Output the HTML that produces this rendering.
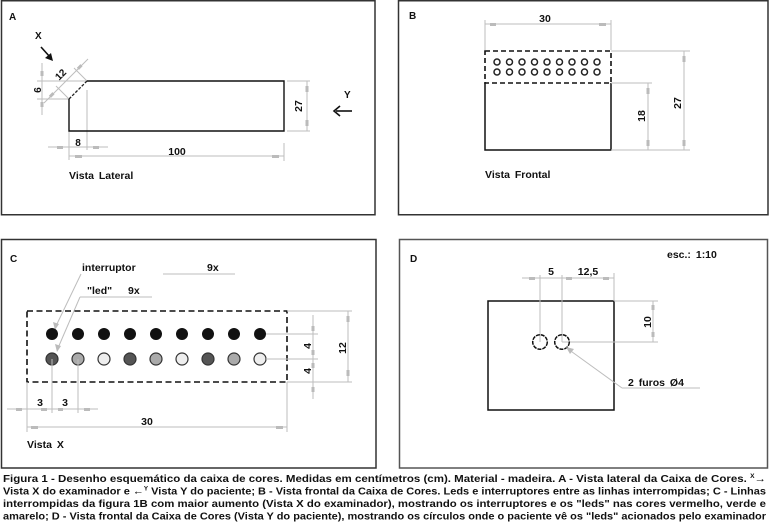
<!DOCTYPE html>
<html><head><meta charset="utf-8"><style>
html,body{margin:0;padding:0;background:#fff;}
svg{display:block;}
text{font-family:"Liberation Sans",Arial,sans-serif;font-weight:bold;fill:#111;}
.d{stroke:#bdbdbd;stroke-width:1;fill:none;}
.m{fill:#bbb;}
</style></head><body>
<svg width="770" height="526" viewBox="0 0 770 526" xmlns="http://www.w3.org/2000/svg">
<!-- Panel borders -->
<rect x="1.5" y="0.75" width="373.5" height="214" fill="none" stroke="#333" stroke-width="1.5"/>
<rect x="398.5" y="0.75" width="369.5" height="214" fill="none" stroke="#333" stroke-width="1.5"/>
<rect x="1.5" y="239.5" width="374.5" height="228.5" fill="none" stroke="#333" stroke-width="1.5"/>
<rect x="399.5" y="239.5" width="368" height="228.5" fill="none" stroke="#555" stroke-width="1.5"/>

<!-- ========== Panel A ========== -->
<text x="9" y="20" font-size="10">A</text>
<text x="35" y="39" font-size="10">X</text>
<line x1="41" y1="47" x2="50" y2="57" stroke="#111" stroke-width="1.6"/>
<polygon points="53,61 45,58 51,53" fill="#111"/>
<line class="d" x1="37" y1="81" x2="87" y2="81"/>
<line class="d" x1="37" y1="99" x2="69" y2="99"/>
<line class="d" x1="42" y1="63" x2="42" y2="115"/>
<rect class="m" x="40.5" y="71" width="3" height="5"/>
<rect class="m" x="40.5" y="102" width="3" height="5"/>
<text x="0" y="0" font-size="10" transform="translate(34,90) rotate(90)" text-anchor="middle">9</text>
<line class="d" x1="44" y1="103" x2="88" y2="59"/>
<line class="d" x1="87" y1="81" x2="74" y2="68"/>
<line class="d" x1="69" y1="99" x2="56" y2="86"/>
<rect class="m" x="49" y="94" width="5" height="3" transform="rotate(-45 51 95)"/>
<rect class="m" x="77" y="66" width="5" height="3" transform="rotate(-45 79 67)"/>
<text x="0" y="0" font-size="10" transform="translate(63,77) rotate(-45)" text-anchor="middle">12</text>
<line class="d" x1="87" y1="90" x2="87" y2="150"/>
<line class="d" x1="69" y1="131" x2="69" y2="160"/>
<line class="d" x1="48" y1="147" x2="108" y2="147"/>
<rect class="m" x="57" y="146" width="6" height="3"/>
<rect class="m" x="93" y="146" width="6" height="3"/>
<text x="78" y="146" font-size="10" text-anchor="middle">8</text>
<line class="d" x1="69" y1="156" x2="284" y2="156"/>
<rect class="m" x="75" y="155" width="7" height="3"/>
<rect class="m" x="272" y="155" width="7" height="3"/>
<line class="d" x1="284" y1="143" x2="284" y2="161"/>
<text x="177" y="155" font-size="10.5" text-anchor="middle">100</text>
<line class="d" x1="287" y1="81" x2="310" y2="81"/>
<line class="d" x1="287" y1="131" x2="310" y2="131"/>
<line class="d" x1="307" y1="81" x2="307" y2="131"/>
<rect class="m" x="305.5" y="86" width="3" height="6"/>
<rect class="m" x="305.5" y="120" width="3" height="6"/>
<text x="0" y="0" font-size="10.5" transform="translate(302,106) rotate(-90)" text-anchor="middle">27</text>
<path d="M87,81 L284,81 L284,131 L69,131 L69,99" fill="none" stroke="#111" stroke-width="1.4"/>
<line x1="69" y1="99" x2="87" y2="81" stroke="#222" stroke-width="1.3" stroke-dasharray="3,1.5"/>
<text x="344" y="98" font-size="10">Y</text>
<line x1="352" y1="111" x2="336" y2="111" stroke="#111" stroke-width="1.6"/>
<polyline points="340,106 334,111 340,116" fill="none" stroke="#111" stroke-width="1.6"/>
<text x="69" y="179" font-size="10.5" word-spacing="2">Vista Lateral</text>

<!-- ========== Panel B ========== -->
<text x="409" y="19" font-size="10">B</text>
<text x="545" y="22" font-size="10.5" text-anchor="middle">30</text>
<line class="d" x1="485" y1="24" x2="611" y2="24"/>
<rect class="m" x="490" y="23" width="6" height="3"/>
<rect class="m" x="599" y="23" width="7" height="3"/>
<line class="d" x1="485" y1="20" x2="485" y2="50"/>
<line class="d" x1="611" y1="20" x2="611" y2="50"/>
<rect x="485" y="51" width="126" height="32" fill="none" stroke="#111" stroke-width="1.6" stroke-dasharray="5,3"/>
<path d="M485,83 L485,150 L611,150 L611,83" fill="none" stroke="#111" stroke-width="1.5"/>
<g fill="none" stroke="#222" stroke-width="1.5">
<circle cx="497" cy="62" r="3"/><circle cx="509.5" cy="62" r="3"/><circle cx="522" cy="62" r="3"/><circle cx="534.5" cy="62" r="3"/><circle cx="547" cy="62" r="3"/><circle cx="559.5" cy="62" r="3"/><circle cx="572" cy="62" r="3"/><circle cx="584.5" cy="62" r="3"/><circle cx="597" cy="62" r="3"/>
<circle cx="497" cy="72" r="3"/><circle cx="509.5" cy="72" r="3"/><circle cx="522" cy="72" r="3"/><circle cx="534.5" cy="72" r="3"/><circle cx="547" cy="72" r="3"/><circle cx="559.5" cy="72" r="3"/><circle cx="572" cy="72" r="3"/><circle cx="584.5" cy="72" r="3"/><circle cx="597" cy="72" r="3"/>
</g>
<line class="d" x1="611" y1="51" x2="690" y2="51"/>
<line class="d" x1="611" y1="83" x2="652" y2="83"/>
<line class="d" x1="611" y1="150" x2="690" y2="150"/>
<line class="d" x1="684" y1="51" x2="684" y2="150"/>
<rect class="m" x="682.5" y="56" width="3" height="6"/>
<rect class="m" x="682.5" y="140" width="3" height="6"/>
<text x="0" y="0" font-size="10.5" transform="translate(681,103) rotate(-90)" text-anchor="middle">27</text>
<line class="d" x1="648" y1="83" x2="648" y2="150"/>
<rect class="m" x="646.5" y="88" width="3" height="6"/>
<rect class="m" x="646.5" y="140" width="3" height="6"/>
<text x="0" y="0" font-size="10.5" transform="translate(645,116) rotate(-90)" text-anchor="middle">18</text>
<text x="485" y="178" font-size="10.5" word-spacing="2">Vista Frontal</text>

<!-- ========== Panel C ========== -->
<text x="10" y="262" font-size="10">C</text>
<text x="82" y="271" font-size="10.5">interruptor</text>
<text x="207" y="271" font-size="10.5">9x</text>
<line class="d" x1="163" y1="274" x2="235" y2="274"/>
<line class="d" x1="81" y1="274" x2="56" y2="326"/>
<polygon points="55,330 53,322 59,324" fill="#bbb"/>
<text x="87" y="294" font-size="10.5">"led"</text>
<text x="128" y="294" font-size="10.5">9x</text>
<line class="d" x1="80" y1="297" x2="152" y2="297"/>
<line class="d" x1="80" y1="297" x2="58" y2="348"/>
<polygon points="57,352 55,344 61,346" fill="#bbb"/>
<rect x="27" y="311" width="260" height="71" fill="none" stroke="#111" stroke-width="1.6" stroke-dasharray="6,3.5"/>
<g fill="#111">
<circle cx="52" cy="334" r="6"/><circle cx="78" cy="334" r="6"/><circle cx="104" cy="334" r="6"/><circle cx="130" cy="334" r="6"/><circle cx="156" cy="334" r="6"/><circle cx="182" cy="334" r="6"/><circle cx="208" cy="334" r="6"/><circle cx="234" cy="334" r="6"/><circle cx="260" cy="334" r="6"/>
</g>
<g stroke="#333" stroke-width="1.2">
<circle cx="52" cy="359" r="6" fill="#555"/><circle cx="78" cy="359" r="6" fill="#aaa"/><circle cx="104" cy="359" r="6" fill="#eee"/><circle cx="130" cy="359" r="6" fill="#555"/><circle cx="156" cy="359" r="6" fill="#aaa"/><circle cx="182" cy="359" r="6" fill="#eee"/><circle cx="208" cy="359" r="6" fill="#555"/><circle cx="234" cy="359" r="6" fill="#aaa"/><circle cx="260" cy="359" r="6" fill="#eee"/>
</g>
<line class="d" x1="266" y1="334" x2="318" y2="334"/>
<line class="d" x1="266" y1="359" x2="318" y2="359"/>
<line class="d" x1="287" y1="311" x2="352" y2="311"/>
<line class="d" x1="287" y1="382" x2="352" y2="382"/>
<line class="d" x1="313" y1="315" x2="313" y2="399"/>
<rect class="m" x="311.5" y="326" width="3" height="5"/>
<rect class="m" x="311.5" y="350" width="3" height="5"/>
<rect class="m" x="311.5" y="363" width="3" height="5"/>
<rect class="m" x="311.5" y="387" width="3" height="5"/>
<text x="0" y="0" font-size="10.5" transform="translate(311,346) rotate(-90)" text-anchor="middle">4</text>
<text x="0" y="0" font-size="10.5" transform="translate(311,371) rotate(-90)" text-anchor="middle">4</text>
<line class="d" x1="348" y1="311" x2="348" y2="382"/>
<rect class="m" x="346.5" y="316" width="3" height="6"/>
<rect class="m" x="346.5" y="370" width="3" height="6"/>
<text x="0" y="0" font-size="10.5" transform="translate(346,348) rotate(-90)" text-anchor="middle">12</text>
<line class="d" x1="52" y1="359" x2="52" y2="413"/>
<line class="d" x1="78" y1="359" x2="78" y2="413"/>
<line class="d" x1="7" y1="409" x2="98" y2="409"/>
<rect class="m" x="16" y="408" width="6" height="3"/>
<rect class="m" x="41" y="408" width="6" height="3"/>
<rect class="m" x="58" y="408" width="5" height="3"/>
<rect class="m" x="84" y="408" width="6" height="3"/>
<text x="40" y="406" font-size="10.5" text-anchor="middle">3</text>
<text x="65" y="406" font-size="10.5" text-anchor="middle">3</text>
<line class="d" x1="27" y1="382" x2="27" y2="432"/>
<line class="d" x1="287" y1="382" x2="287" y2="432"/>
<line class="d" x1="27" y1="427" x2="287" y2="427"/>
<rect class="m" x="31" y="426" width="7" height="3"/>
<rect class="m" x="276" y="426" width="7" height="3"/>
<text x="147" y="425" font-size="10.5" text-anchor="middle">30</text>
<text x="27" y="448" font-size="10.5" word-spacing="2">Vista X</text>

<!-- ========== Panel D ========== -->
<text x="410" y="262" font-size="10">D</text>
<text x="667" y="258" font-size="10.5" word-spacing="2">esc.: 1:10</text>
<rect x="488" y="301" width="126" height="109" fill="none" stroke="#111" stroke-width="1.5"/>
<line class="d" x1="540" y1="275" x2="540" y2="342"/>
<line class="d" x1="562" y1="275" x2="562" y2="342"/>
<line class="d" x1="522" y1="278" x2="614" y2="278"/>
<rect class="m" x="529" y="277" width="6" height="3"/>
<rect class="m" x="566" y="277" width="6" height="3"/>
<rect class="m" x="603" y="277" width="6" height="3"/>
<line class="d" x1="614" y1="273" x2="614" y2="301"/>
<text x="551" y="275" font-size="10.5" text-anchor="middle">5</text>
<text x="588" y="275" font-size="10.5" text-anchor="middle">12,5</text>
<line class="d" x1="614" y1="301" x2="658" y2="301"/>
<line class="d" x1="562" y1="342" x2="658" y2="342"/>
<line class="d" x1="653" y1="301" x2="653" y2="342"/>
<rect class="m" x="651.5" y="305" width="3" height="5"/>
<rect class="m" x="651.5" y="332" width="3" height="5"/>
<text x="0" y="0" font-size="10.5" transform="translate(651,322) rotate(-90)" text-anchor="middle">10</text>
<circle cx="540" cy="342" r="7.3" fill="none" stroke="#111" stroke-width="1.5" stroke-dasharray="4,1"/>
<circle cx="562" cy="342" r="7.3" fill="none" stroke="#111" stroke-width="1.5" stroke-dasharray="4,1"/>
<line class="d" x1="568" y1="349" x2="622" y2="388"/>
<line class="d" x1="622" y1="388" x2="700" y2="388"/>
<polygon points="566,347 574,349 570,354" fill="#bbb"/>
<text x="628" y="386" font-size="10.5" word-spacing="2">2 furos Ø4</text>

<!-- ========== Caption ========== -->
<text x="3" y="482" font-size="10.5" textLength="763" lengthAdjust="spacingAndGlyphs">Figura 1 - Desenho esquemático da caixa de cores. Medidas em centímetros (cm). Material - madeira. A - Vista lateral da Caixa de Cores. <tspan font-size="6" dy="-4">X</tspan><tspan dy="4">→</tspan></text>
<text x="3" y="494.5" font-size="10.5" textLength="763" lengthAdjust="spacingAndGlyphs">Vista X do examinador e ←<tspan font-size="6" dy="-4">Y</tspan><tspan dy="4"> Vista Y do paciente; B - Vista frontal da Caixa de Cores. Leds e interruptores entre as linhas interrompidas; C - Linhas</tspan></text>
<text x="3" y="507" font-size="10.5" textLength="763" lengthAdjust="spacingAndGlyphs">interrompidas da figura 1B com maior aumento (Vista X do examinador), mostrando os interruptores e os "leds" nas cores vermelho, verde e</text>
<text x="3" y="519.5" font-size="10.5" textLength="763" lengthAdjust="spacingAndGlyphs">amarelo; D  - Vista frontal da Caixa de Cores (Vista Y do paciente), mostrando os círculos onde o paciente vê os "leds" acionados pelo examinador</text>
</svg>
</body></html>
